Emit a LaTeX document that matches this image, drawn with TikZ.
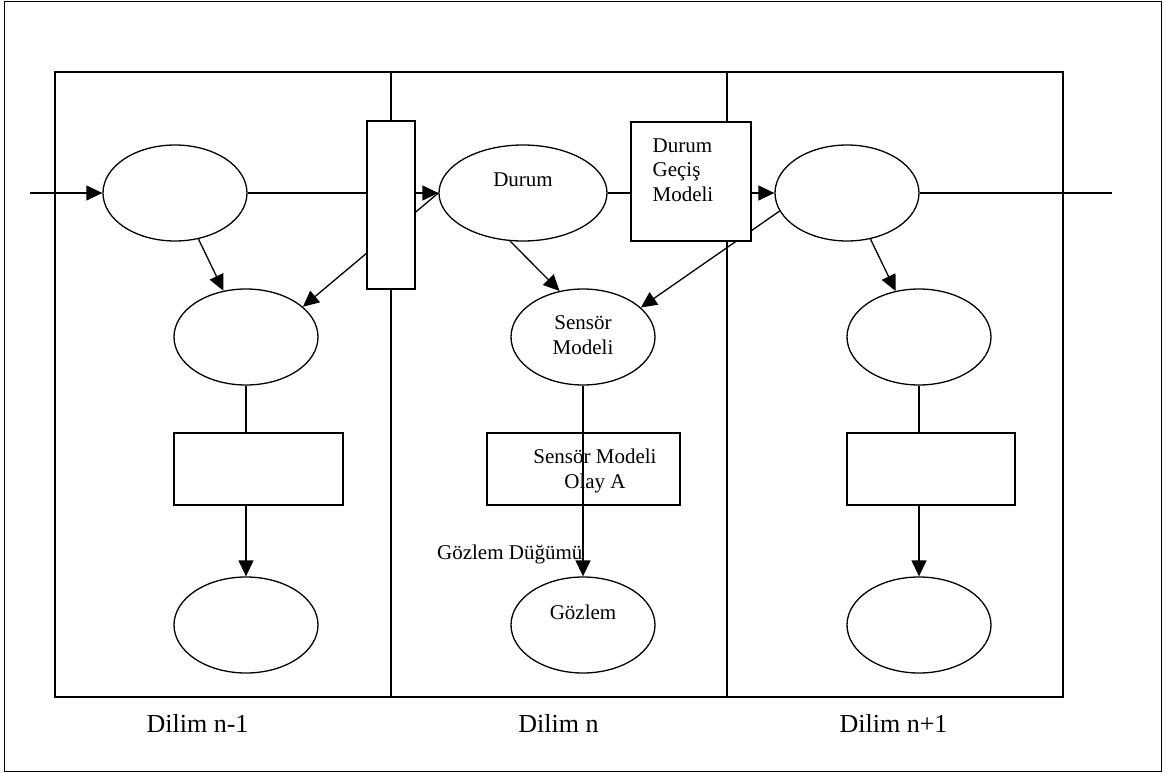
\documentclass[tikz,border=0pt]{standalone}
\usepackage{fontspec}
\setmainfont{Liberation Serif}
\usetikzlibrary{shapes.geometric,arrows.meta,backgrounds}
\begin{document}
\begin{tikzpicture}[x=1pt,y=-1pt,
  line width=1.3pt,
  state/.style={draw,ellipse,minimum width=144pt,minimum height=96pt,inner sep=0pt},
  box/.style={draw,rectangle,inner sep=0pt},
  txt/.style={font=\fontsize{21}{24.5}\selectfont,inner sep=0pt},
  slicelabel/.style={font=\fontsize{26}{30}\selectfont,inner sep=0pt},
  arr/.style={line width=1.3pt,-{Triangle[length=16pt,width=15pt]}},
  link/.style={line width=1.3pt},
  frame/.style={line width=1pt}]
\useasboundingbox (0,0) rectangle (1165,773);

% outer border and the three time slices
\draw[frame] (4,1.5) rectangle (1161,771);
\draw[link] (55,72) rectangle (1063,697);
\draw[link] (391,72) -- (391,697);
\draw[link] (727,72) -- (727,697);

% slice n-1
\node[state] (s1) at (175,193) {};
\node[state] (m1) at (246,337) {};
\node[box,minimum width=169pt,minimum height=72pt] (r1) at (258.5,469) {};
\node[state] (b1) at (246,625) {};

% transition block between n-1 and n
\node[box,fill=white,minimum width=48pt,minimum height=168pt] (tall) at (391,205) {};

% slice n
\node[state,minimum width=168pt] (s2) at (523,193) {};
\node[state] (sm) at (583,337) {};
\node[box,minimum width=193pt,minimum height=72pt] (rs) at (583.5,469) {};
\node[state] (g) at (583,625) {};
\node[box,fill=white,line width=2.5pt,minimum width=120pt,minimum height=119pt] (trans) at (691,181.5) {};

% slice n+1
\node[state] (s3) at (847,193) {};
\node[state] (m3) at (919,337) {};
\node[box,minimum width=168pt,minimum height=72pt] (r3) at (931,469) {};
\node[state] (b3) at (919,625) {};

% texts
\node[txt] (t-durum) at (523,180) {Durum};
\node[txt,align=left,anchor=north west] (t-trans) at (652,138) {Durum\\Geçiş\\Modeli};
\node[txt,align=center] (t-sm) at (583,335) {Sensör\\Modeli};
\node[txt,align=center] (t-rs) at (595,471) {Sensör Modeli\\Olay A};
\node[txt,anchor=east] (t-obsnode) at (583,554) {Gözlem Düğümü};
\node[txt] (t-obs) at (583,612) {Gözlem};
\node[slicelabel] (c1) at (197.5,723) {Dilim n-1};
\node[slicelabel] (c2) at (558.5,723) {Dilim n};
\node[slicelabel] (c3) at (893.5,723) {Dilim n+1};

% state chain
\coordinate (in) at (30,193);
\coordinate (out) at (1112,193);
\draw[arr] (in) -- (s1.west);
\draw[link] (s1.east) -- (s1.east -| tall.west);
\draw[arr] (tall.east |- s2.west) -- (s2.west);
\draw[link] (s2.east) -- (s2.east -| trans.west);
\draw[arr] (trans.east |- s3.west) -- (s3.west);
\draw[link] (s3.east) -- (out);

% state to sensor model
\draw[arr] (s1.297) -- (m1.116);
\draw[arr] (s2.255) -- (sm.117);
\draw[arr] (s3.297) -- (m3.117);

% sensor model to observation
\draw[link] (m1.south) -- (m1.south |- r1.north);
\draw[arr] (r1.south -| b1.north) -- (b1.north);
\draw[link] (m3.south) -- (m3.south |- r3.north);
\draw[arr] (r3.south -| b3.north) -- (b3.north);
\draw[arr] (sm.south) -- (g.north);

% cross-slice links pass behind the transition blocks
\begin{pgfonlayer}{background}
\draw[arr] (s2.west) -- (m1.28);
\draw[arr] (s3.195) -- (sm.27);
\end{pgfonlayer}
\end{tikzpicture}
\end{document}
